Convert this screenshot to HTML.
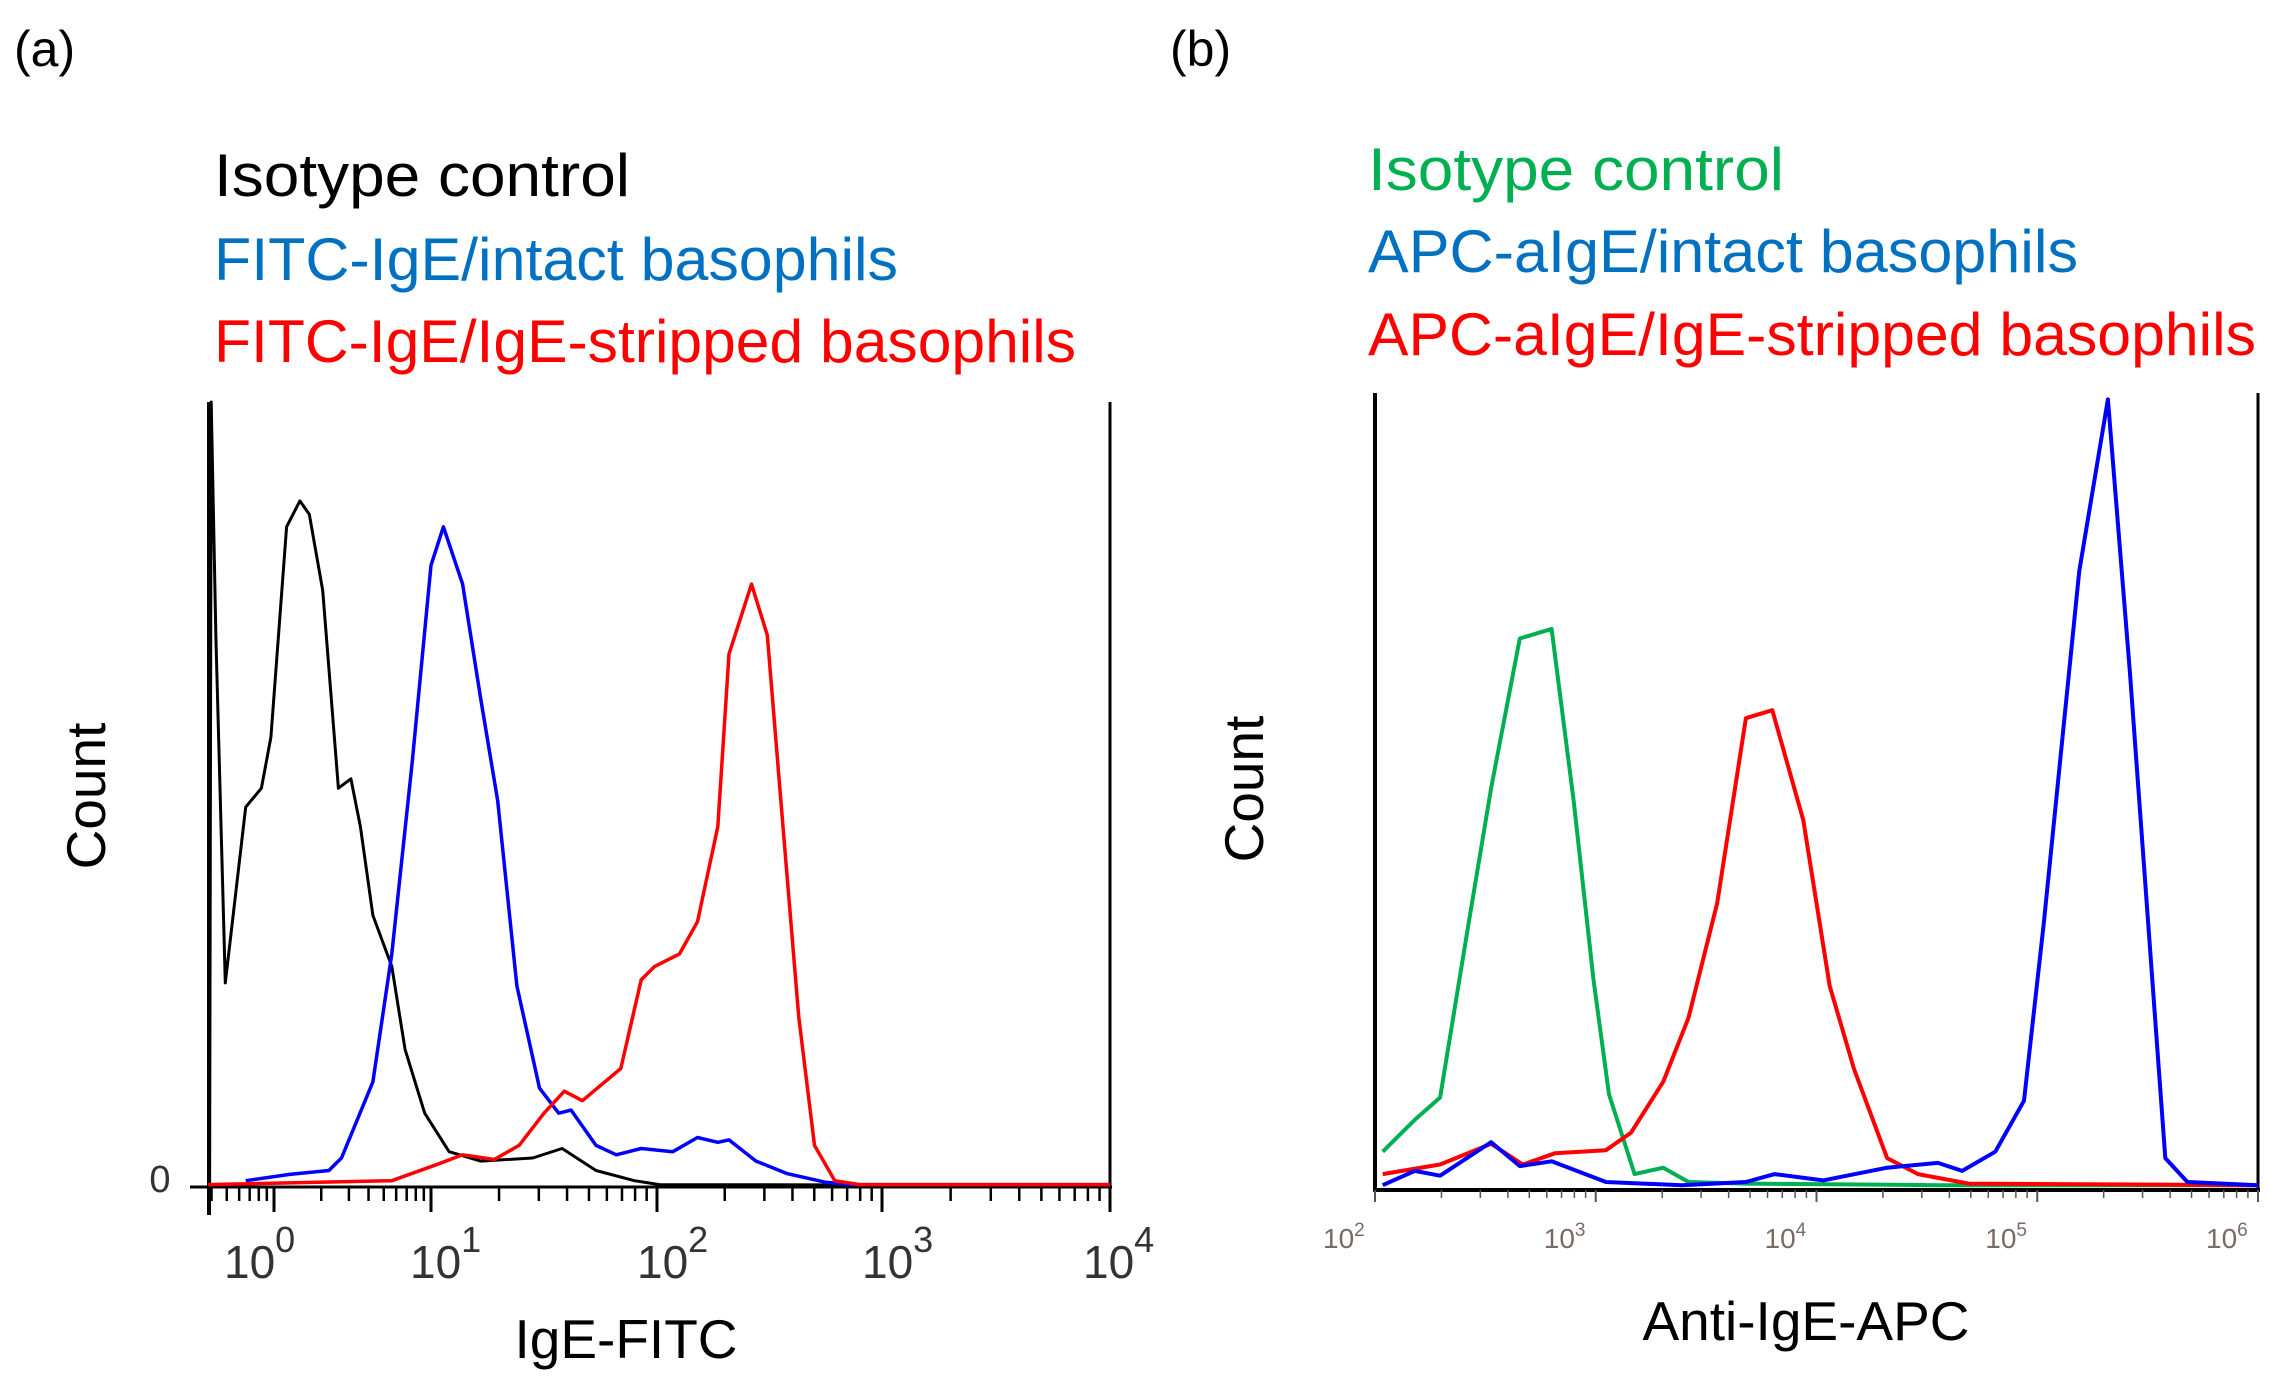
<!DOCTYPE html>
<html><head><meta charset="utf-8"><style>
html,body{margin:0;padding:0;background:#fff;}
svg{display:block;font-family:"Liberation Sans",sans-serif;}
</style></head><body>
<svg id="fig" width="2270" height="1391" viewBox="0 0 2270 1391">
<text x="14" y="66" font-size="50">(a)</text>
<text x="1170" y="66" font-size="50">(b)</text>
<g>
<text x="214" y="196" font-size="60" fill="#000" textLength="416" lengthAdjust="spacingAndGlyphs">Isotype control</text>
<text x="214" y="280" font-size="60" fill="#0070c0" textLength="684" lengthAdjust="spacingAndGlyphs">FITC-IgE/intact basophils</text>
<text x="214" y="362" font-size="60" fill="#ff0000" textLength="862" lengthAdjust="spacingAndGlyphs">FITC-IgE/IgE-stripped basophils</text>
</g>
<g>
<text x="1368" y="190" font-size="60" fill="#00b050" textLength="416" lengthAdjust="spacingAndGlyphs">Isotype control</text>
<text x="1368" y="272" font-size="60" fill="#0070c0" textLength="710" lengthAdjust="spacingAndGlyphs">APC-aIgE/intact basophils</text>
<text x="1368" y="355" font-size="60" fill="#ff0000" textLength="888" lengthAdjust="spacingAndGlyphs">APC-aIgE/IgE-stripped basophils</text>
</g>
<text transform="translate(105,796) rotate(-90)" text-anchor="middle" font-size="55">Count</text>
<text transform="translate(1263,789) rotate(-90)" text-anchor="middle" font-size="55">Count</text>
<text x="626" y="1358" text-anchor="middle" font-size="55">IgE-FITC</text>
<text x="1806" y="1340" text-anchor="middle" font-size="55">Anti-IgE-APC</text>
<text x="160" y="1192" text-anchor="middle" font-size="38" fill="#333">0</text>
<g id="plotA"></g>
<g id="plotB"></g>
</svg>
<script>
// Panel (a) data: x in log10 units, y in relative count (0-100)
const aTickDecades = [0, 1, 2, 3, 4];
const aTickLabels = ["0", "1", "2", "3", "4"];
const aIsoX = [-0.41,-0.40,-0.37,-0.31,-0.18,-0.08,-0.02,0.08,0.165,0.225,0.31,0.41,0.49,0.55,0.63,0.75,0.835,0.96,1.08,1.22,1.45,1.58,1.73,1.90,2.01,4.0];
const aIsoY = [0,100,70,26.0,48.4,50.8,57.3,84.1,87.4,85.7,76.0,50.8,52.0,45.9,34.6,28.1,17.5,9.4,4.5,3.3,3.7,4.9,2.1,0.8,0.3,0.2];
const aIntX = [-0.18,0.10,0.35,0.43,0.63,0.75,0.88,1.0,1.055,1.14,1.22,1.295,1.38,1.48,1.565,1.62,1.73,1.82,1.93,2.07,2.18,2.27,2.32,2.44,2.58,2.75,2.86,4.0];
const aIntY = [0.8,1.6,2.1,3.7,13.4,29.7,54.1,79.2,84.1,76.8,62.2,49.2,25.6,12.6,9.4,9.8,5.3,4.1,4.9,4.5,6.3,5.7,6.0,3.3,1.7,0.6,0.3,0.3];
const aStrX = [-0.42,0.75,1.03,1.14,1.28,1.39,1.50,1.59,1.67,1.84,1.93,1.99,2.10,2.18,2.27,2.32,2.42,2.49,2.56,2.63,2.70,2.79,2.90,4.0];
const aStrY = [0.3,0.8,2.9,4.1,3.5,5.3,9.4,12.2,11.0,15.1,26.4,28.1,29.7,33.8,45.9,67.9,76.8,70.3,45.9,21.6,5.3,0.8,0.3,0.3];
// Panel (b) data
const bTickDecades = [2, 3, 4, 5, 6];
const bTickLabels = ["2", "3", "4", "5", "6"];
const bIsoX = [2.035,2.18,2.295,2.425,2.526,2.656,2.80,2.90,2.99,3.06,3.176,3.306,3.42,3.68,4.55,6.0];
const bIsoY = [4.8,8.8,11.6,33.6,50.4,69.2,70.4,48.8,26.4,12.0,2.0,2.8,1.0,0.8,0.6,0.6];
const bStrX = [2.035,2.295,2.526,2.67,2.815,3.046,3.16,3.306,3.42,3.55,3.68,3.80,3.94,4.06,4.17,4.32,4.46,4.69,6.0];
const bStrY = [2.0,3.2,5.8,3.2,4.6,5.0,7.2,13.6,21.6,36.0,59.2,60.2,46.4,25.6,15.2,4.0,2.0,0.8,0.6];
const bIntX = [2.035,2.18,2.295,2.526,2.656,2.80,3.046,3.39,3.68,3.81,4.03,4.32,4.55,4.66,4.81,4.94,5.03,5.19,5.32,5.42,5.58,5.68,6.0];
const bIntY = [0.6,2.4,1.8,6.0,3.0,3.6,1.0,0.6,1.0,2.0,1.2,2.8,3.4,2.4,4.8,11.2,33.6,77.6,99.2,64.8,4.0,1.0,0.6];

const NS = "http://www.w3.org/2000/svg";
function mk(tag, attrs, parent){const e=document.createElementNS(NS,tag);for(const k in attrs)e.setAttribute(k,attrs[k]);parent.appendChild(e);return e;}

const aDecPx = [274, 431, 657, 882, 1110];
function axA(v){ if(v<=1) return aDecPx[0]+v*(aDecPx[1]-aDecPx[0]); const i=Math.min(3,Math.floor(v)); return aDecPx[i]+(v-i)*(aDecPx[i+1]-aDecPx[i]); }
function ayA(c){ return 1187 - c*7.85; }
function axB(v){ return 1375 + (v-2)*220.75; }
function ayB(c){ return 1190 - c*7.97; }
const aLabelShift = [-50, -21, -20, -20, -27];

function drawSeries(g, xs, ys, fx, fy, color, w, name){
  let d=""; for(let i=0;i<xs.length;i++){ d+=(i?"L":"M")+fx(xs[i]).toFixed(1)+","+fy(ys[i]).toFixed(1); }
  const p=mk("path",{d:d,fill:"none",stroke:color,"stroke-width":w,"stroke-linejoin":"round"},g);
  
  
}

const gA=document.getElementById("plotA");
const la=mk("line",{x1:209,y1:402,x2:209,y2:1215,stroke:"#000","stroke-width":4},gA);


const ba=mk("line",{x1:190,y1:1187,x2:1112,y2:1187,stroke:"#000","stroke-width":3},gA);


const ra=mk("line",{x1:1110,y1:402,x2:1110,y2:1187,stroke:"#000","stroke-width":3},gA);


for(let dcd=-1; dcd<4; dcd++){ for(let m=2;m<10;m++){ const v=dcd+Math.log10(m); if(v<-0.41) continue; const x=axA(v);
  const t=mk("line",{x1:x,y1:1187,x2:x,y2:1201,stroke:"#000","stroke-width":2.5},gA);
  
   } }
aTickDecades.forEach((v,i)=>{ const x=axA(v);
  const t=mk("line",{x1:x,y1:1187,x2:x,y2:1212,stroke:"#000","stroke-width":3},gA);
  
  
  const tx=mk("text",{x:x+aLabelShift[i],y:1278,"font-size":46,fill:"#333"},gA);
  
  
  tx.textContent="10";
  const sp=mk("tspan",{dy:-26,"font-size":36},tx); sp.textContent=aTickLabels[i];
});
drawSeries(gA,aIsoX,aIsoY,axA,ayA,"#000",3,"series-isotype-a");
drawSeries(gA,aIntX,aIntY,axA,ayA,"#0000ff",3.5,"series-intact-a");
drawSeries(gA,aStrX,aStrY,axA,ayA,"#ff0000",3.5,"series-stripped-a");

const gB=document.getElementById("plotB");
const lb=mk("line",{x1:1375,y1:393,x2:1375,y2:1192,stroke:"#000","stroke-width":4},gB);


const bb=mk("line",{x1:1373,y1:1190,x2:2260,y2:1190,stroke:"#000","stroke-width":4},gB);


const rb=mk("line",{x1:2258,y1:393,x2:2258,y2:1190,stroke:"#000","stroke-width":3},gB);


for(let dcd=2; dcd<6; dcd++){ for(let m=2;m<10;m++){ const x=axB(dcd+Math.log10(m));
  const t=mk("line",{x1:x,y1:1190,x2:x,y2:1198,stroke:"#555","stroke-width":1.5},gB);
  
   } }
bTickDecades.forEach((v,i)=>{ const x=axB(v);
  const t=mk("line",{x1:x,y1:1190,x2:x,y2:1202,stroke:"#555","stroke-width":2},gB);
  
  
  const tx=mk("text",{x:x-52,y:1248,"font-size":28,fill:"#7a6a66"},gB);
  
  
  tx.textContent="10";
  const sp=mk("tspan",{dy:-12,"font-size":19},tx); sp.textContent=bTickLabels[i];
});
drawSeries(gB,bIsoX,bIsoY,axB,ayB,"#00b050",4,"series-isotype-b");
drawSeries(gB,bStrX,bStrY,axB,ayB,"#ff0000",4,"series-stripped-b");
drawSeries(gB,bIntX,bIntY,axB,ayB,"#0000ff",4,"series-intact-b");
</script>
</body></html>
